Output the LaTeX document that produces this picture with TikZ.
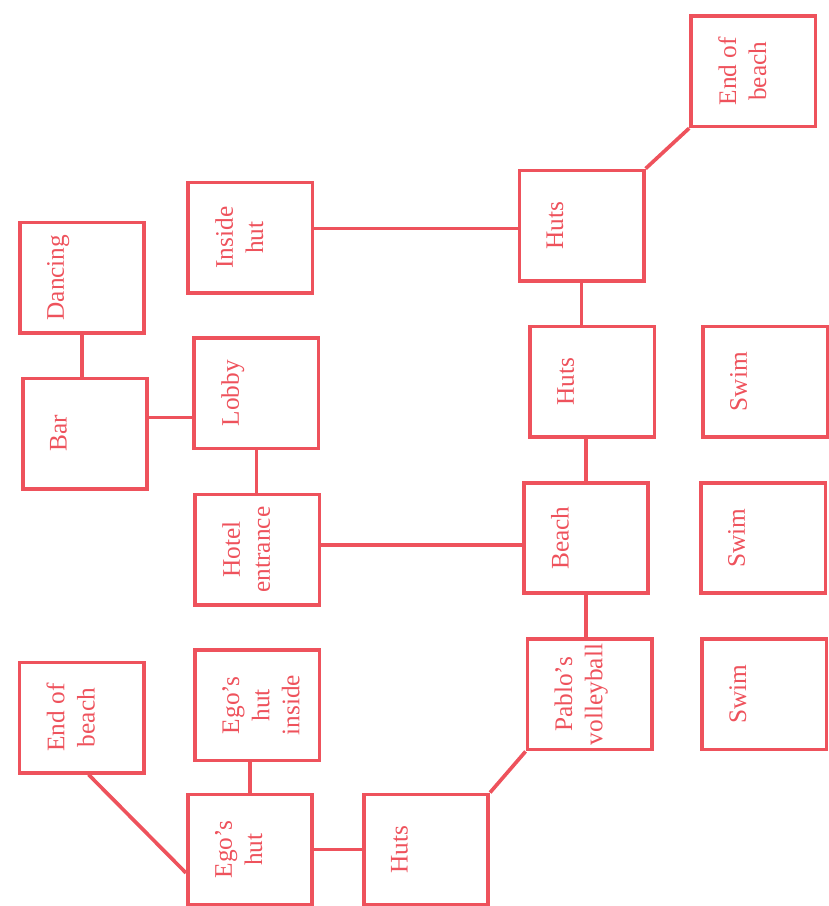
\documentclass[tikz,border=0pt]{standalone}
\usepackage{fontspec}
\setmainfont{Liberation Serif}
\usepackage{graphicx}
\definecolor{mapred}{RGB}{238,82,92}
\newcommand{\placetext}[1]{\rotatebox{90}{\parbox[c][3.11cm][t]{2.76cm}{\centering\fontsize{18}{21.5}\selectfont\vspace*{0.68cm}#1}}}

\begin{document}
\begin{tikzpicture}[
    place/.style={draw=mapred, line width=2.6pt, text=mapred, inner sep=0pt,
      minimum width=3.11cm, minimum height=2.76cm},
    link/.style={draw=mapred, line width=2.6pt}]
  \useasboundingbox (0,0) rectangle (20.725,-22.65);
  % hotel side
  \node[place] (dancing) at (2.05,-6.94) {\placetext{Dancing}};
  \node[place] (bar) at (2.125,-10.84) {\placetext{Bar}};
  \node[place] (insidehut) at (6.26,-5.94) {\placetext{Inside\\hut}};
  \node[place] (lobby) at (6.41,-9.83) {\placetext{Lobby}};
  \node[place] (hotel) at (6.43,-13.74) {\placetext{Hotel\\entrance}};
  % Ego's corner
  \node[place] (endleft) at (2.04,-17.94) {\placetext{End of\\beach}};
  \node[place] (egoinside) at (6.43,-17.63) {\placetext{Ego’s\\hut\\inside}};
  \node[place] (egohut) at (6.25,-21.24) {\placetext{Ego’s\\hut}};
  \node[place] (hutslow) at (10.65,-21.24) {\placetext{Huts}};
  % along the beach
  \node[place] (hutstop) at (14.54,-5.64) {\placetext{Huts}};
  \node[place] (endright) at (18.83,-1.78) {\placetext{End of\\beach}};
  \node[place] (hutsmid) at (14.81,-9.54) {\placetext{Huts}};
  \node[place] (beach) at (14.65,-13.45) {\placetext{Beach}};
  \node[place] (pablo) at (14.74,-17.36) {\placetext{Pablo’s\\volleyball}};
  % the sea
  \node[place] (swima) at (19.13,-9.54) {\placetext{Swim}};
  \node[place] (swimb) at (19.08,-13.45) {\placetext{Swim}};
  \node[place] (swimc) at (19.11,-17.36) {\placetext{Swim}};
  % links
  \draw[link] (dancing.south) -- (dancing.south |- bar.north);
  \draw[link] (bar.14) -- (bar.14 -| lobby.west);
  \draw[link] (lobby.south) -- (lobby.south |- hotel.north);
  \draw[link] (hotel.4) -- (hotel.4 -| beach.west);
  \draw[link] (insidehut.8) -- (insidehut.8 -| hutstop.west);
  \draw[link] (hutstop.south) -- (hutstop.south |- hutsmid.north);
  \draw[link] (beach.north) -- (beach.north |- hutsmid.south);
  \draw[link] (beach.south) -- (beach.south |- pablo.north);
  \draw[link] (hutstop.north east) -- (endright.south west);
  \draw[link] (endleft.277) -- (egohut.200);
  \draw[link] (egohut.north) -- (egohut.north |- egoinside.south);
  \draw[link] (egohut.east) -- (egohut.east -| hutslow.west);
  \draw[link] (hutslow.north east) -- (pablo.south west);
\end{tikzpicture}
\end{document}
